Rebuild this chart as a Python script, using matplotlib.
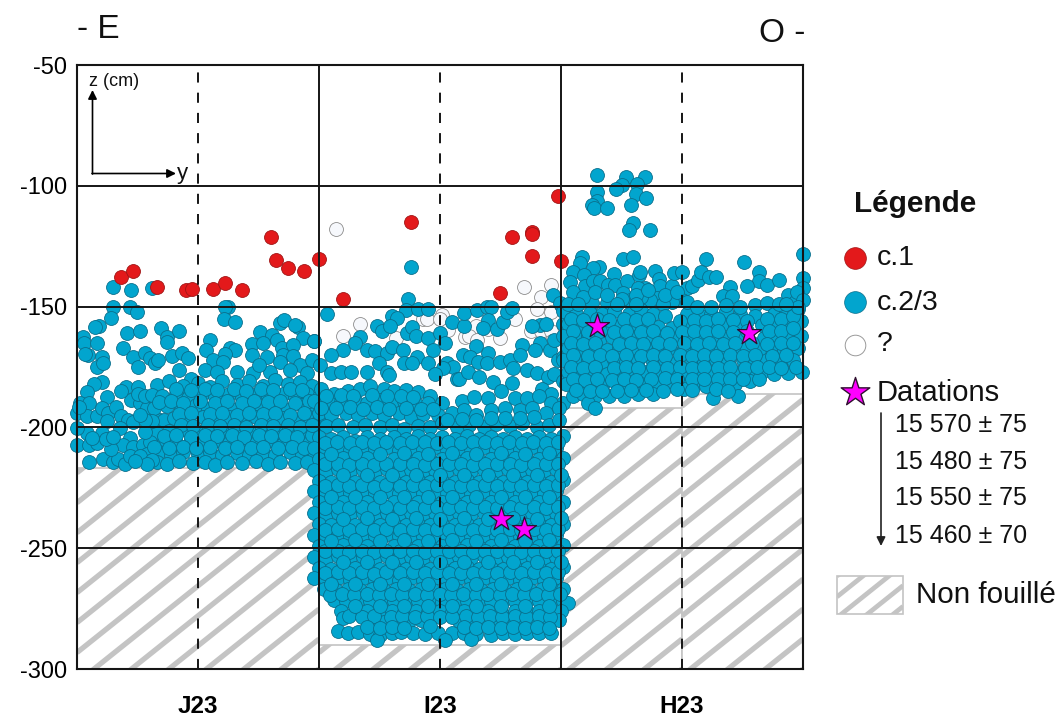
import numpy as np
import matplotlib
matplotlib.use("Agg")
import matplotlib.pyplot as plt
from matplotlib.patches import Rectangle

plt.rcParams['font.family'] = ['Liberation Sans', 'DejaVu Sans']
plt.rcParams['axes.unicode_minus'] = False

# y (cm, 300 cm across three squares), z (cm); flat pairs y,z
squares = ['J23', 'I23', 'H23']
z_ticks = [-50, -100, -150, -200, -250, -300]

c1_pts = [18.2,-137.7, 23.1,-135.3, 33.1,-141.9, 45.0,-143.1, 47.5,-142.7, 56.2,-142.7, 61.2,-140.2,
          68.2,-143.1, 80.2,-121.2, 82.2,-130.7, 87.2,-134.0, 93.8,-135.3, 100,-130.3, 109.9,-146.9,
          138.0,-115.0, 174.8,-144.4, 179.8,-121.2, 188,-119.1, 188,-120, 188,-129, 200,-131, 198.8,-104.2]

unknown_pts = [107.0,-117.9, 116.9,-157.2, 109.9,-162.2, 131.8,-163, 143,-155.1, 144.6,-155.1, 150.8,-153.5,
               150,-155.1, 153.3,-159.7, 164.9,-158, 160.3,-162.6, 162,-162.2, 165.3,-163.8, 169.8,-159.3,
               174.8,-163, 181,-155.1, 184.7,-141.9, 195.9,-141.1, 191.7,-146, 190.1,-151, 195.9,-152.2,
               187.6,-160.1, 191.7,-160.1, 195.9,-160.1, 196.3,-164.2]

j23_sparse = [15,-141.8, 22.2,-143.1, 31.1,-142.4, 15,-150, 21.9,-150, 24.7,-152.1, 13.9,-154.6, 9.2,-158, 7.5,-158.5,
              20.5,-161, 26,-160.1, 34.6,-159, 37.1,-162.5, 37.1,-164.5, 42.2,-160.1, 2.6,-162.5, 2.9,-165.2, 8.1,-165.2,
              19.1,-167, 4.7,-170, 3.2,-169.5, 10.2,-170.7, 23,-171, 28.1,-169, 30.2,-171.4, 32.2,-173.2, 33.6,-172.1,
              39.1,-170.5, 43.3,-169, 46,-171.1, 25,-175.1, 42.2,-176.2, 8.1,-174.9, 10.9,-173.2, 10.2,-181.1, 7.2,-182,
              4,-185.2, 20.1,-183.1, 25,-183.1, 12.3,-187.3, 62.5,-150, 61,-150.2, 60.9,-155.1, 65.2,-156.2, 83.9,-156.7,
              85.5,-155.6, 91.5,-158.3, 90,-157.5, 75.6,-160.7, 80.4,-161.8, 93.5,-163.1, 98,-164.1, 55,-163.8, 53.3,-168,
              63.2,-167.3, 65.3,-168, 61.2,-169.6, 72.2,-165.5, 77,-165.2, 82.5,-163.8, 84.6,-167.3, 89.4,-165.9, 72.2,-170,
              78.4,-170.7, 85.3,-170, 89.4,-170.5, 83.9,-173.1, 92.2,-174.2, 97,-172.1, 100.4,-174.2, 56.4,-172.1, 60.2,-173.1,
              52.9,-176.2, 66,-177, 72.9,-177.6, 79.8,-177, 88,-176.2, 94.9,-177.6, 75,-174, 58,-177, 47,-180, 1.2,-190,
              -0.1,-194.2, 5.1,-190, 4,-195.3, 8.1,-195.3, 10.2,-192.1, 13,-194.2, 16.1,-191.4, 12.3,-197.2, 18.2,-195.3,
              21.2,-197, 23.3,-197.6, 22.2,-188.7, 26,-190, 29.1,-192.1, 17.8,-200.4, 10.2,-202.5, 4,-202.5, 0.1,-200.4,
              0.1,-207.3, 5.1,-207.3, 8.1,-206.6, 21.9,-204.5, 19.1,-207.3, 23.3,-208, 27.4,-207.3, 32.9,-202.5, 34.3,-197,
              5.1,-214.2, 10.9,-213.2, 15,-214.2, 17,-213, 20,-215, 22,-212, 1,-191.5, 6,-204.5, 25,-186, 28,-187]

j23_dense = [33,-182.3, 38,-181, 44,-183, 50,-181.5, 55,-183.2, 60,-180.8, 66,-182.5, 71,-181, 77,-183, 82,-180.5, 87,-182, 92,-181.2, 97,-183,
             31,-186.5, 35,-187, 41,-186, 46,-188, 52,-185.8, 57,-187.5, 63,-186.2, 68,-187.8, 74,-186, 79,-187.2, 85,-186.3, 90,-187.5, 95,-186, 100,-187.3,
             32,-192, 37,-191, 43,-192.5, 49,-190.8, 54,-192.2, 60,-191, 65,-192.8, 71,-190.6, 76,-192, 82,-191.2, 87,-192.6, 93,-190.9, 98,-192.3,
             36,-197, 40,-196, 46,-197.5, 52,-195.6, 57,-197.2, 63,-195.9, 68,-197.5, 74,-195.8, 79,-197, 85,-196.1, 90,-197.4, 96,-195.8, 100,-197,
             38,-201.5, 44,-200.6, 50,-202, 55,-200.8, 61,-202.2, 66,-200.5, 72,-202, 77,-200.9, 83,-202.3, 88,-200.7, 94,-202, 99,-200.8,
             30,-206, 36,-205.5, 41,-206.6, 47,-205.2, 52,-206.8, 58,-205.3, 63,-206.4, 69,-205, 74,-206.6, 80,-205.4, 85,-206.8, 91,-205.2, 96,-206.4,
             29,-211, 34,-210.2, 39,-211.5, 44,-210.3, 50,-211.2, 55,-210, 60,-211.6, 66,-210.4, 71,-211.3, 77,-210.1, 82,-211.6, 88,-210.3, 93,-211.2, 98,-210,
             33,-214.3, 37,-215, 42,-214, 48,-214.8, 53,-214.2, 57,-215.5, 62,-214.4, 68,-214.9, 74,-214.1, 79,-215, 84,-214.3, 90,-214.7, 95,-214.2]

j23_fill = [41,-184, 47,-184.5, 53,-184, 58,-184.6, 65,-184.2, 70,-184.8, 76,-184.1, 81,-184.5, 88,-184, 93,-184.6,
            34,-189.5, 39,-189, 44,-190, 51,-189, 57,-189.8, 62,-189, 68,-190, 73,-188.9, 79,-189.6, 84,-189, 90,-189.9, 96,-189.2,
            42,-194.6, 47,-194, 55,-194.5, 60,-194, 66,-194.8, 71,-194, 77,-194.5, 82,-194, 88,-194.7, 94,-194,
            31,-197.5, 43,-199, 48,-199.5, 54,-199, 59,-199.6, 65,-199, 70,-199.7, 76,-199, 81,-199.5, 87,-199, 92,-199.7, 98,-199,
            28,-202, 36,-203.5, 41,-203, 47,-203.8, 53,-203.2, 58,-203.7, 64,-203, 69,-203.8, 75,-203.2, 80,-203.7, 86,-203, 91,-203.8, 97,-203.2,
            32,-208, 38,-208.5, 44,-208, 49,-208.6, 55,-208, 61,-208.5, 66,-208, 72,-208.6, 77,-208, 83,-208.5, 89,-208, 94,-208.5,
            26,-212, 14,-209, 31,-213.5, 29,-215, 24,-214, 12,-205, 15,-204, 28,-197, 26,-195, 18,-185]

i23_sparse = [138,-133.5, 136.9,-147, 103.2,-153.1, 130,-153.8, 136,-151.4, 141,-151, 145.2,-151, 132.4,-154.9, 123.8,-158, 125.9,-160,
              129.4,-158, 136.2,-160.8, 138.3,-158.3, 140.1,-162.2, 144.9,-163.1, 154.8,-156.2, 160,-158, 160,-152.8, 165.2,-151.4,
              169.3,-150.3, 171,-150.3, 170,-155.6, 167.9,-159, 173.4,-159.3, 176.2,-156.2, 177.6,-152.1, 179.6,-150.7, 196.9,-145.2,
              199.9,-149.4, 117,-162.7, 114.9,-164.9, 110,-168, 105,-170, 98,-164.1, 120,-168, 123.2,-168.2, 128,-169, 130,-166.6,
              134.9,-168, 140.4,-170.7, 147,-168, 150,-161, 152,-165.2, 124.8,-173.2, 135.1,-173.2, 138.3,-173.2, 144.9,-173.2,
              152.8,-173.2, 155.5,-174.9, 151.1,-175.6, 148,-178, 105,-177.6, 109.1,-177.2, 113.1,-177.2, 120,-177.2, 128,-177.2,
              129,-178.3, 156.9,-180.1, 157.9,-180.1, 164.8,-166.2, 159.7,-170, 162.4,-170.7, 170,-169, 165.9,-173.1, 169.3,-173.5,
              174.8,-173.1, 179,-172.1, 183.8,-165.9, 183,-170, 185.8,-176.2, 180.3,-175.6, 190,-177.4, 191.3,-165.2, 189.3,-168,
              195.5,-168, 191.3,-157.6, 198.9,-172.1, 194.8,-179, 161.7,-177.2, 166.3,-179, 172,-181.1, 179.6,-181.8, 201,-157,
              188,-158, 194,-157, 197,-164, 203,-165, 201,-171, 197,-178, 192,-184, 196,-186, 201,-181, 201,-190]

i23_band = [101,-184, 106,-186, 112,-185, 117,-184, 121,-183, 127,-184, 131,-185, 136,-184.5, 141,-185.5, 146,-187,
            98,-189, 104,-190, 109,-189.5, 115,-188.5, 120,-190, 125,-188.5, 130,-190, 135,-189, 140,-190.5, 145,-190, 151,-190,
            159,-189, 164,-187.5, 170,-188, 175,-185, 181,-188, 186,-188, 191,-187, 196,-190,
            100,-194, 105,-195, 111,-194, 116,-195, 122,-194, 127,-195, 133,-194, 138,-195.5, 143,-194.5, 149,-195,
            155,-194, 160,-193, 165,-195, 171,-193, 177,-192, 183,-193, 188,-192, 194,-194, 199,-192,
            97,-199, 103,-199.5, 108,-199, 114,-200, 119,-199, 125,-200, 130,-199, 135,-200.5, 141,-199.5, 146,-200,
            151,-198, 157,-200, 162,-199, 168,-200, 173,-198.5, 179,-199.5, 184,-198, 190,-200, 195,-199, 199,-197,
            103,-187, 109,-186.5, 114,-187, 122,-186.5, 128,-187, 134,-187, 139,-187.5, 101,-192, 107,-192, 113,-191.5, 118,-192.5, 124,-191.5, 129,-192.5, 136,-192, 142,-192.5, 147,-192.5, 153,-197, 159,-196.5, 165,-197, 171,-196, 177,-196, 183,-196, 189,-195.5]

i23_block = [100,-204, 105,-205, 110,-204, 115,-205.5, 120,-204, 125,-205, 131,-204, 136,-205, 141,-203.5, 146,-205, 151,-204, 156,-205, 161,-203.5, 166,-205, 171,-204, 176,-205, 181,-203.8, 186,-204.8, 191,-204, 196,-205, 201,-203.5,
             98,-208.5, 103,-209, 108,-208.5, 113,-209.5, 118,-208.5, 123,-209, 128,-208, 133,-209.5, 138,-208.5, 143,-209, 148,-208, 153,-209.5, 158,-208.5, 163,-209, 168,-208, 173,-209.5, 178,-208.5, 183,-209, 188,-208, 193,-209.5, 198,-208.5,
             100,-213, 105,-213.5, 110,-212.8, 115,-213.5, 120,-212.8, 125,-213.5, 131,-213, 136,-213.6, 141,-212.8, 146,-213.5, 151,-213, 156,-213.6, 161,-212.8, 166,-213.5, 171,-213, 176,-213.6, 181,-212.8, 186,-213.5, 191,-213, 196,-213.6, 201,-212.8,
             98,-217.5, 103,-218, 108,-217.3, 113,-218, 118,-217.5, 123,-218, 128,-217.4, 133,-218, 138,-217.5, 143,-218.1, 148,-217.5, 153,-218, 158,-217.3, 163,-218, 168,-217.5, 173,-218, 178,-217.3, 183,-218.1, 188,-217.5, 193,-218, 198,-217.3,
             100,-222, 105,-222.5, 110,-221.8, 115,-222.4, 120,-222, 125,-222.6, 131,-222, 136,-222.5, 141,-221.8, 146,-222.4, 151,-222, 156,-222.6, 161,-221.8, 166,-222.5, 171,-222, 176,-222.4, 181,-221.8, 186,-222.5, 191,-222, 196,-222.6, 201,-221.8,
             98,-226.5, 103,-227, 108,-226.4, 113,-227, 118,-226.5, 123,-227, 128,-226.3, 133,-227, 138,-226.5, 143,-227.1, 148,-226.4, 153,-227, 158,-226.5, 163,-227, 168,-226.4, 173,-227, 178,-226.5, 183,-227, 188,-226.4, 193,-227, 198,-226.5,
             100,-231, 105,-231.5, 110,-230.8, 115,-231.4, 120,-231, 125,-231.5, 131,-230.9, 136,-231.5, 141,-231, 146,-231.5, 151,-231, 156,-231.4, 161,-230.8, 166,-231.5, 171,-231, 176,-231.5, 181,-230.9, 186,-231.4, 191,-231, 196,-231.5, 201,-230.8,
             98,-235.5, 103,-236, 108,-235.4, 113,-236, 118,-235.5, 123,-236, 128,-235.3, 133,-236, 138,-235.5, 143,-236.1, 148,-235.4, 153,-236, 158,-235.5, 163,-236, 168,-235.4, 173,-236, 178,-235.5, 183,-236, 188,-235.4, 193,-236, 198,-235.5,
             100,-240, 105,-240.5, 110,-239.8, 115,-240.4, 120,-240, 125,-240.5, 131,-239.9, 136,-240.5, 141,-240, 146,-240.5, 151,-240, 156,-240.4, 161,-239.8, 166,-240.5, 171,-240, 176,-240.5, 181,-239.9, 186,-240.4, 191,-240, 196,-240.5, 201,-239.8,
             98,-244.5, 103,-245, 108,-244.4, 113,-245, 118,-244.5, 123,-245, 128,-244.3, 133,-245, 138,-244.5, 143,-245.1, 148,-244.4, 153,-245, 158,-244.5, 163,-245, 168,-244.4, 173,-245, 178,-244.5, 183,-245, 188,-244.4, 193,-245, 198,-244.5,
             100,-249, 105,-249.5, 110,-248.8, 115,-249.4, 120,-249, 125,-249.5, 131,-248.9, 136,-249.5, 141,-249, 146,-249.5, 151,-249, 156,-249.4, 161,-248.8, 166,-249.5, 171,-249, 176,-249.5, 181,-248.9, 186,-249.4, 191,-249, 196,-249.5, 201,-248.8,
             98,-253.5, 103,-254, 108,-253.4, 113,-254, 118,-253.5, 123,-254, 128,-253.3, 133,-254, 138,-253.5, 143,-254.1, 148,-253.4, 153,-254, 158,-253.5, 163,-254, 168,-253.4, 173,-254, 178,-253.5, 183,-254, 188,-253.4, 193,-254, 198,-253.5,
             100,-258, 105,-258.5, 110,-257.8, 115,-258.4, 120,-258, 125,-258.5, 131,-257.9, 136,-258.5, 141,-258, 146,-258.5, 151,-258, 156,-258.4, 161,-257.8, 166,-258.5, 171,-258, 176,-258.5, 181,-257.9, 186,-258.4, 191,-258, 196,-258.5, 201,-257.8,
             98,-262.5, 103,-263, 108,-262.4, 113,-263, 118,-262.5, 123,-263, 128,-262.3, 133,-263, 138,-262.5, 143,-263.1, 148,-262.4, 153,-263, 158,-262.5, 163,-263, 168,-262.4, 173,-263, 178,-262.5, 183,-263, 188,-262.4, 193,-263, 198,-262.5,
             102,-267, 107,-267.5, 112,-266.8, 117,-267.4, 122,-267, 127,-267.5, 132,-266.9, 137,-267.5, 142,-267, 147,-267.5, 152,-267, 157,-267.4, 162,-266.8, 167,-267.5, 172,-267, 177,-267.5, 182,-266.9, 187,-267.4, 192,-267, 197,-267.5, 201,-266.8,
             106,-271.5, 111,-272, 116,-271.4, 121,-272, 126,-271.5, 131,-272, 136,-271.3, 141,-272, 146,-271.5, 151,-272.1, 156,-271.4, 161,-272, 166,-271.5, 171,-272, 176,-271.4, 181,-272, 186,-271.5, 191,-272, 196,-271.4, 201,-272,
             109,-276, 115,-276.5, 120,-275.8, 125,-276.4, 130,-276, 135,-276.5, 140,-275.9, 145,-276.5, 150,-276, 155,-276.4, 160,-275.8, 165,-276.5, 170,-276, 175,-276.4, 181,-275.9, 186,-276.5, 191,-276, 196,-276.4, 203,-272.5, 200,-276,
             110,-279, 122,-280, 127,-280.5, 132,-279.8, 137,-280.2, 142,-279.8, 158,-280, 163,-279.6, 168,-280.4, 173,-280, 178,-279.7, 183,-280.5, 190,-280, 195,-280, 199,-279.8,
             108,-284.4, 112,-285, 116,-284.5, 121,-285.5, 125,-286, 130,-285, 134,-284.6, 139,-285, 144,-285.5, 149,-285, 155,-285.2, 160,-285, 165,-285.5, 171,-286, 176,-285, 181,-285.4, 186,-285, 191,-285.2, 196,-285, 124,-288, 152,-288, 163,-287.5]

i23_fill = [102.6,-206.3, 107.5,-206, 112.7,-206.6, 117.6,-206.1, 122.8,-206.5, 127.7,-206, 133.6,-206.4, 138.5,-206.2, 143.7,-206, 148.6,-206.6, 153.5,-206.1, 158.7,-206.4, 163.6,-206.2, 168.5,-206, 173.7,-206.5, 178.6,-206.1, 183.7,-206.4, 188.6,-206, 193.8,-206.5, 198.6,-206.2,
            102.6,-215.2, 107.7,-215, 112.6,-215.4, 117.8,-215, 122.6,-215.4, 127.8,-215, 133.5,-215.3, 138.7,-215, 143.6,-215.4, 148.8,-215, 153.6,-215.3, 158.7,-215.1, 163.7,-215.4, 168.6,-215, 173.7,-215.3, 178.8,-215, 183.6,-215.4, 188.8,-215, 193.6,-215.3, 198.7,-215,
            102.6,-224.3, 107.7,-224, 112.6,-224.4, 117.8,-224, 122.6,-224.5, 127.8,-224, 133.5,-224.3, 138.7,-224, 143.6,-224.4, 148.8,-224, 153.6,-224.3, 158.7,-224.1, 163.7,-224.4, 168.6,-224, 173.7,-224.3, 178.8,-224, 183.6,-224.4, 188.8,-224, 193.6,-224.3, 198.7,-224,
            102.6,-233.2, 107.7,-233, 112.6,-233.4, 117.8,-233, 122.6,-233.4, 127.8,-233, 133.5,-233.3, 138.7,-233, 143.6,-233.4, 148.8,-233, 153.6,-233.3, 158.7,-233.1, 163.7,-233.4, 168.6,-233, 173.7,-233.3, 178.8,-233, 183.6,-233.4, 188.8,-233, 193.6,-233.3, 198.7,-233,
            102.6,-242.3, 107.7,-242, 112.6,-242.4, 117.8,-242, 122.6,-242.5, 127.8,-242, 133.5,-242.3, 138.7,-242, 143.6,-242.4, 148.8,-242, 153.6,-242.3, 158.7,-242.1, 163.7,-242.4, 168.6,-242, 173.7,-242.3, 178.8,-242, 183.6,-242.4, 188.8,-242, 193.6,-242.3, 198.7,-242,
            102.6,-251.2, 107.7,-251, 112.6,-251.4, 117.8,-251, 122.6,-251.4, 127.8,-251, 133.5,-251.3, 138.7,-251, 143.6,-251.4, 148.8,-251, 153.6,-251.3, 158.7,-251.1, 163.7,-251.4, 168.6,-251, 173.7,-251.3, 178.8,-251, 183.6,-251.4, 188.8,-251, 193.6,-251.3, 198.7,-251,
            102.6,-260.3, 107.7,-260, 112.6,-260.4, 117.8,-260, 122.6,-260.5, 127.8,-260, 133.5,-260.3, 138.7,-260, 143.6,-260.4, 148.8,-260, 153.6,-260.3, 158.7,-260.1, 163.7,-260.4, 168.6,-260, 173.7,-260.3, 178.8,-260, 183.6,-260.4, 188.8,-260, 193.6,-260.3, 198.7,-260,
            104.6,-269.2, 109.7,-269, 114.6,-269.4, 119.8,-269, 124.6,-269.4, 129.8,-269, 134.5,-269.3, 139.7,-269, 144.6,-269.4, 149.8,-269, 154.6,-269.3, 159.7,-269.1, 164.7,-269.4, 169.6,-269, 174.7,-269.3, 179.8,-269, 184.6,-269.4, 189.8,-269, 194.6,-269.3, 199.7,-269,
            112.6,-278, 117.8,-278.3, 122.6,-278, 129.8,-278.3, 134.5,-278, 139.7,-278.3, 144.6,-278, 149.8,-278.5, 155,-278.6, 160.7,-278.1, 165.7,-278.4, 170.6,-278, 175.7,-278.3, 180.8,-278, 185.6,-278.4, 190.8,-278, 195.6,-278.3,
            120,-282.5, 125,-283, 130,-282.5, 135,-283, 146,-282, 160,-282.5, 165,-283, 170,-282.5, 175,-283, 180,-282.5, 185,-283, 190,-282.5, 195,-283,
            105,-211, 115,-210.8, 125,-211, 135,-210.8, 145,-211, 155,-210.8, 165,-211, 175,-210.8, 185,-211, 195,-210.8,
            110,-219.9, 120,-219.7, 130,-219.9, 140,-219.7, 150,-219.9, 160,-219.7, 170,-219.9, 180,-219.7, 190,-219.9, 200,-219.7,
            105,-229, 115,-228.8, 125,-229, 135,-228.8, 145,-229, 155,-228.8, 165,-229, 175,-228.8, 185,-229, 195,-228.8,
            110,-237.9, 120,-237.7, 130,-237.9, 140,-237.7, 150,-237.9, 160,-237.7, 170,-237.9, 180,-237.7, 190,-237.9, 200,-237.7,
            105,-247, 115,-246.8, 125,-247, 135,-246.8, 145,-247, 155,-246.8, 165,-247, 175,-246.8, 185,-247, 195,-246.8,
            110,-255.9, 120,-255.7, 130,-255.9, 140,-255.7, 150,-255.9, 160,-255.7, 170,-255.9, 180,-255.7, 190,-255.9, 200,-255.7,
            105,-265, 115,-264.8, 125,-265, 135,-264.8, 145,-265, 155,-264.8, 165,-265, 175,-264.8, 185,-265, 195,-264.8,
            115,-274, 125,-273.8, 135,-274, 145,-273.8, 155,-274, 165,-273.8, 175,-274, 185,-273.8, 195,-274]

h23_sparse = [214.9,-95.5, 226.9,-96.5, 234.8,-96.5, 231.6,-99.2, 225.1,-99.6, 222.8,-101.4, 214.9,-102.7, 230.9,-103.5, 235,-104.9,
              214.9,-106.1, 212.7,-107.9, 213.7,-109, 218.9,-109, 228.8,-107.9, 229.9,-115.5, 227.9,-118.5, 236.8,-118.5, 208.6,-129.3,
              207.9,-131.8, 225.8,-130.4, 229.9,-129.6, 259.8,-130.4, 275.8,-131.5, 299.8,-128.2, 215.5,-133.7, 213.4,-134.1, 204.9,-135.5,
              209.3,-136.9, 203.8,-139.9, 210,-141.4, 213.4,-139.2, 216.2,-139.6, 221.7,-136.5, 219.6,-141, 222.4,-141, 227.2,-139.6,
              232.3,-136.9, 232.7,-135.5, 238.9,-135.1, 240.3,-138.7, 241,-141.4, 234.8,-142.4, 232,-142.4, 246,-141.4, 246.7,-135.9,
              249.9,-135.5, 252,-142.4, 254,-141.4, 256.8,-139, 257.9,-135.5, 261.3,-137.6, 264,-137.6, 281.9,-135.5, 281.9,-139.2,
              285,-141, 289.9,-139, 276.8,-141.4, 269.9,-142, 266.9,-145.6, 270.8,-145.6, 225.8,-144.5, 228.6,-147.2, 239.6,-146.5,
              236.8,-147.2, 249.9,-147.2, 245.8,-148.3, 212.7,-148.6, 218.9,-148.6, 280.2,-149.3, 285,-148.6, 293.6,-145.2, 296.7,-147.9,
              299.8,-138.3, 299.8,-142.4, 297.7,-143.8, 299.8,-147.2, 199.6,-148.6, 225,-147, 233,-146, 242,-149]

h23_dense = [201,-152, 206,-153, 212,-152.5, 217,-153, 222,-152, 228,-153, 233,-151.5, 238,-153, 243,-154, 252,-153, 258,-154, 262,-153, 268,-152, 274,-153, 280,-154, 288,-153, 293,-152, 298,-151,
             203,-157, 208,-158, 219,-157.5, 224,-158, 230,-157, 235,-158, 240,-158.5, 246,-159, 251,-158, 257,-158, 262,-158.5, 267,-157, 272,-158, 283,-157.5, 288,-158, 293,-157, 299,-156,
             201,-162, 206,-163, 211,-162, 216,-163.5, 221,-162.5, 227,-163, 232,-162, 237,-163.5, 242,-162.5, 248,-163, 253,-162, 258,-163.5, 263,-162.5, 269,-163, 274,-162, 284,-163, 289,-162.5, 294,-163, 299,-162,
             203,-167, 208,-167.5, 214,-167, 219,-168, 224,-167, 230,-168, 235,-167, 240,-168, 245,-167, 251,-168, 256,-167, 261,-168, 266,-167, 272,-168, 277,-167, 282,-168, 287,-167, 292,-168, 298,-167,
             201,-172, 206,-172.5, 211,-172, 217,-173, 222,-172, 227,-173, 232,-172, 238,-173, 243,-172, 248,-173, 254,-172, 259,-173, 264,-172, 269,-173, 275,-172, 280,-173, 285,-172, 291,-173, 296,-172,
             203,-177, 208,-177.5, 214,-177, 219,-178, 224,-177, 230,-177.5, 235,-177, 241,-178, 246,-177, 251,-178, 256,-177, 262,-177.5, 267,-178, 272,-177, 278,-177.5, 283,-177, 288,-178, 294,-177.5, 299.5,-177,
             202,-182, 207,-182, 212,-182.5, 217,-183, 223,-182, 228,-183, 233,-182, 240,-182.5, 245,-181, 250,-183, 255,-182, 260,-183, 268,-183, 272,-182, 278,-181, 282,-180,
             205,-187, 209,-186, 214,-187, 220,-187, 226,-187, 232,-186, 238,-186, 251,-184, 273,-187, 263,-188,
             211,-190, 214,-192]

h23_fill = [204,-155, 209,-155.5, 215,-155, 220,-155.5, 226,-155, 231,-155.5, 236,-155, 249,-156, 255,-155.5, 260,-156, 265,-155, 271,-155.5, 277,-156, 285,-155, 291,-155, 296,-154,
            205,-160, 211,-160.5, 216,-160, 222,-160.5, 227,-160, 233,-160.5, 238,-160, 244,-161, 250,-160.5, 255,-160, 260,-160.5, 265,-160, 271,-160.5, 277,-160, 286,-160, 291,-160, 296,-159,
            204,-165, 209,-165.5, 214,-165, 224,-165.5, 229,-165, 234,-165.5, 240,-165, 245,-165.5, 251,-165, 256,-165.5, 261,-165, 267,-165.5, 272,-165, 279,-165, 285,-165.5, 291,-165, 296,-165,
            205,-170, 211,-170.5, 216,-170, 221,-170.5, 227,-170, 233,-170.5, 238,-170, 243,-170.5, 249,-170, 254,-170.5, 259,-170, 264,-170.5, 270,-170, 275,-170.5, 280,-170, 287,-170.5, 293,-170,
            204,-175, 209,-175.5, 214,-175, 222,-175.5, 227,-175, 232,-175.5, 238,-175, 244,-175.5, 249,-175, 254,-175.5, 259,-175, 265,-175.5, 270,-175, 276,-175.5, 281,-175, 286,-175, 291,-175.5, 297,-175,
            205,-180, 210,-180.5, 215,-180, 221,-180.5, 226,-180, 231,-180.5, 237,-180, 243,-179.5, 248,-180, 254,-180, 259,-180, 265,-180, 270,-180, 275,-180,
            206,-184.5, 212,-185, 217,-185, 223,-185, 229,-184.5, 235,-184.5, 242,-185, 248,-184, 254,-184.5, 264,-184, 269,-185,
            205,-144, 209,-146, 214,-144, 219,-145, 231,-145, 236,-143, 243,-145, 248,-144, 203,-149, 207,-149, 223,-149, 231,-149, 252,-148, 256,-150, 262,-150, 268,-149.5, 274,-150, 290,-149, 298,-150, 293,-149]

dates_y = [214.9, 277.7, 175.2, 184.7]
dates_z = [-158, -161, -238, -242]
dates = ['15 570 ± 75', '15 480 ± 75', '15 550 ± 75', '15 460 ± 70']

BLUE, RED = '#02A5CE', '#E3191B'
HATCH = '#C4C4C4'
PS = 100

fig = plt.figure(figsize=(10.6, 7.2), dpi=100)
ax = fig.add_axes([77/1060, 1-669/720, 726/1060, 604/720])
ax.set_xlim(0, 300)
ax.set_ylim(-300, -50)

def stripes(a, x0, y0, w, h, spacing, slope=0.8, lw=3.8):
    r = Rectangle((x0, y0), w, h, fc='white', ec=HATCH, lw=1.2, zorder=1, clip_on=False)
    a.add_patch(r)
    step = spacing*abs(slope)
    ends = [y0 - slope*x0, y0 - slope*(x0+w), y0 + h - slope*x0, y0 + h - slope*(x0+w)]
    for c in np.arange(min(ends), max(ends) + step, step):
        ln, = a.plot([x0, x0+w], [c+slope*x0, c+slope*(x0+w)], color=HATCH, lw=lw, zorder=1.1,
                     solid_capstyle='butt')
        ln.set_clip_path(r)

stripes(ax, 0, -300, 100, 83, 15.5)
stripes(ax, 100, -300, 100, 10, 15.5)
stripes(ax, 200, -300, 50, 108, 15.5)
stripes(ax, 250, -300, 50, 114, 15.5)

def dots(flat, fc, ec, z=3):
    p = np.array(flat).reshape(-1, 2)
    ax.scatter(p[:, 0], p[:, 1], s=PS, c=fc, edgecolors=ec, linewidths=0.6, zorder=z, clip_on=False)

dots(unknown_pts, '#F6F8FC', '#8C8C8C', 2)
for part in (j23_sparse, j23_dense, j23_fill, i23_sparse, i23_band, i23_block, i23_fill, h23_sparse, h23_dense, h23_fill):
    dots(part, BLUE, '#0A6F8C', 3)
dots(c1_pts, RED, '#A01515', 3.5)

for z in z_ticks[1:-1]:
    ax.axhline(z, color='#151515', lw=1.4, zorder=5)
for x in (100, 200):
    ax.axvline(x, color='#151515', lw=1.4, zorder=5)
for x in (50, 150, 250):
    ax.plot([x, x], [-300, -50], color='#151515', lw=1.4, zorder=5, dashes=(5.2, 5.2))

ax.scatter(dates_y, dates_z, s=330, marker='*', c='#FF00FF', edgecolors='#301030', linewidths=0.9, zorder=6, clip_on=False)

ax.set_yticks(z_ticks)
ax.set_xticks([50, 150, 250], squares, fontweight='bold', fontsize=17.5)
ax.tick_params(axis='both', length=0)
ax.tick_params(axis='y', labelsize=17, pad=7)
ax.tick_params(axis='x', pad=19)
for s in ax.spines.values():
    s.set_linewidth(1.5)
    s.set_color('#151515')
    s.set_zorder(5.5)

# overlay in pixel coordinates for legend and annotations
lx = fig.add_axes([0, 0, 1, 1], zorder=10)
lx.set_xlim(0, 1060)
lx.set_ylim(720, 0)
lx.axis('off')
lx.patch.set_alpha(0)

def t(x, y, s, size, **k):
    lx.text(x, y, s, fontsize=size, va='center', ha=k.pop('ha', 'left'), color='#111111', **k)

t(77, 30, '- E', 24)
t(805, 33, 'O -', 24, ha='right')
t(854, 204, 'Légende', 21.4, fontweight='bold')
lx.scatter([855], [258], s=245, c=RED, edgecolors='#A01515', linewidths=0.5)
lx.scatter([855], [302], s=245, c=BLUE, edgecolors='#0A6F8C', linewidths=0.5)
lx.scatter([855], [345], s=220, c='white', edgecolors='#9A9A9A', linewidths=0.7)
lx.scatter([855], [392], s=470, marker='*', c='#FF00FF', edgecolors='#301030', linewidths=1)
t(877, 258, 'c.1', 20.5)
t(877, 303, 'c.2/3', 20.5)
t(877, 344, '?', 20.5)
t(877, 393, 'Datations', 21)
for yy, s in zip((425, 462, 498, 536), dates):
    t(895, yy, s, 18)
lx.annotate('', xy=(881, 546), xytext=(881, 413),
            arrowprops=dict(arrowstyle='-|>', color='#222222', lw=1.2, mutation_scale=13, shrinkA=0, shrinkB=0))
stripes(lx, 837, 576, 66, 38, 26, slope=-0.8, lw=3.4)
t(916, 595, 'Non fouillé', 21.3)

t(89, 81, 'z (cm)', 13)
t(177, 173, 'y', 16)
lx.annotate('', xy=(92.5, 90), xytext=(92.5, 174),
            arrowprops=dict(arrowstyle='-|>', color='black', lw=1.2, mutation_scale=13, shrinkA=0, shrinkB=0))
lx.annotate('', xy=(176, 173.5), xytext=(92, 173.5),
            arrowprops=dict(arrowstyle='-|>', color='black', lw=1.2, mutation_scale=13, shrinkA=0, shrinkB=0))

fig.savefig('out.png', dpi=100)
